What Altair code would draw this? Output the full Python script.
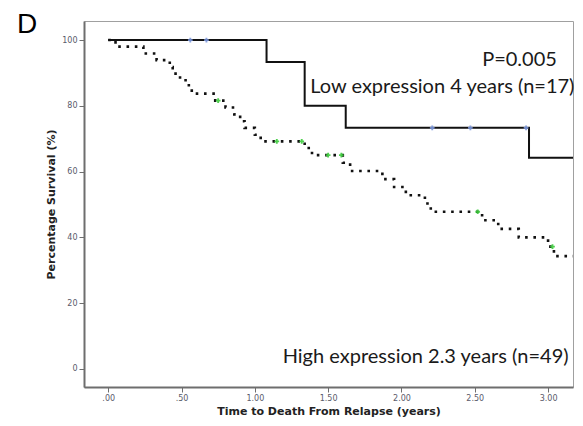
import altair as alt
import pandas as pd

# ---- data ----
low_time = [0.00, 1.08, 1.34, 1.62, 2.87, 3.17]
low_surv = [100.0, 93.3, 80.0, 73.3, 64.2, 64.2]
low_cens_time = [0.56, 0.67, 2.21, 2.47, 2.85]
low_cens_surv = [100.0, 100.0, 73.3, 73.3, 73.3]

high_time = [0.00, 0.05, 0.24, 0.33, 0.42, 0.44, 0.49, 0.55, 0.57, 0.73,
             0.80, 0.86, 0.90, 0.93, 1.00, 1.04, 1.34, 1.39, 1.60, 1.65,
             1.87, 1.95, 2.03, 2.16, 2.20, 2.55, 2.66, 2.80, 3.00, 3.04, 3.17]
high_surv = [100.0, 98.0, 95.9, 93.9, 91.8, 89.8, 87.8, 85.7, 83.7, 81.6,
             79.5, 77.4, 75.3, 73.3, 71.2, 69.2, 67.2, 65.0, 62.7, 60.2,
             57.7, 55.3, 52.8, 50.3, 47.8, 45.2, 42.6, 40.0, 37.2, 34.3, 34.3]
high_cens_time = [0.75, 1.15, 1.32, 1.50, 1.59, 2.52, 3.03]
high_cens_surv = [81.6, 69.2, 69.2, 65.0, 65.0, 47.8, 37.2]

ann_text = ["P=0.005", "Low expression 4 years (n=17)", "High expression 2.3 years (n=49)"]
ann_x = [3.06, 3.18, 3.14]
ann_y = [93.9, 85.7, 3.6]

panel_label = ["D"]

x_ticks = [0.0, 0.5, 1.0, 1.5, 2.0, 2.5, 3.0]
y_ticks = [0, 20, 40, 60, 80, 100]

low_df = pd.DataFrame({"t": low_time, "s": low_surv})
high_df = pd.DataFrame({"t": high_time, "s": high_surv})
low_c = pd.DataFrame({"t": low_cens_time, "s": low_cens_surv})
high_c = pd.DataFrame({"t": high_cens_time, "s": high_cens_surv})
ann_df = pd.DataFrame({"t": ann_x, "s": ann_y, "label": ann_text})
panel_df = pd.DataFrame({"label": panel_label})

xs = alt.Scale(domain=[-0.165, 3.17], nice=False, zero=False)
ys = alt.Scale(domain=[-5.5, 105.8], nice=False, zero=False)

X = alt.X("t:Q", scale=xs, axis=alt.Axis(
    title="Time to Death From Relapse (years)", values=x_ticks,
    labelExpr="datum.value < 1 ? slice(format(datum.value, '.2f'), 1) : format(datum.value, '.2f')",
    titlePadding=3))
Y = alt.Y("s:Q", scale=ys, axis=alt.Axis(
    title="Percentage Survival (%)", values=y_ticks, titlePadding=5))

low_line = alt.Chart(low_df).mark_line(
    interpolate="step-after", color="#111111", strokeWidth=2
).encode(x=X, y=Y)

high_line = alt.Chart(high_df).mark_line(
    interpolate="step-after", color="#111111", strokeWidth=2.6,
    strokeDash=[2.6, 5.7], strokeCap="butt"
).encode(x="t:Q", y="s:Q")

low_marks = alt.Chart(low_c).mark_point(
    shape="cross", filled=True, size=22, color="#7b97dc", opacity=0.9
).encode(x="t:Q", y="s:Q")

high_marks = alt.Chart(high_c).mark_point(
    shape="cross", filled=True, size=22, color="#3ccc3c", opacity=0.9
).encode(x="t:Q", y="s:Q")

ann = alt.Chart(ann_df).mark_text(
    align="right", baseline="middle", font="Lato", fontSize=20, color="#1a1a1a"
).encode(x="t:Q", y="s:Q", text="label:N")

panel = alt.Chart(panel_df).mark_text(
    align="left", baseline="alphabetic", font="Liberation Sans", fontSize=28,
    color="#000000"
).encode(x=alt.value(-67), y=alt.value(12), text="label:N")

chart = alt.layer(low_line, high_line, low_marks, high_marks, ann, panel).properties(
    width=489, height=366,
    autosize=alt.AutoSizeParams(type="none"),
    padding={"left": 76, "top": 13, "right": 2, "bottom": 31},
).configure_view(
    stroke="#a0a0a0", strokeWidth=1
).configure_axis(
    grid=False, domainColor="#6e6e6e", domainWidth=2, tickColor="#6e6e6e",
    tickSize=5, tickWidth=1, labelFont="DejaVu Sans", labelFontSize=8,
    labelColor="#5a5a6a", labelPadding=2, titleFont="DejaVu Sans",
    titleFontSize=11, titleFontWeight="bold", titleColor="#222222"
)

chart.save("out.html", embed_options={"renderer": "svg", "actions": False})
